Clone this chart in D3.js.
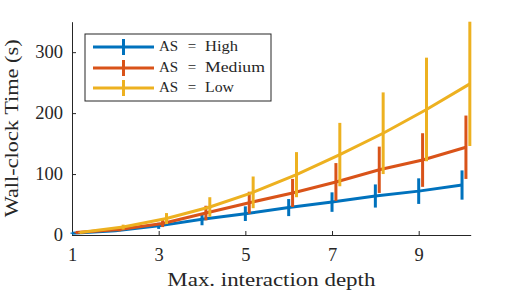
<!DOCTYPE html>
<html>
<head>
<meta charset="utf-8">
<script src="https://cdn.jsdelivr.net/npm/d3@7"></script>
<style>
  body { margin: 0; background: #fff; }
  svg text { font-family: 'Liberation Serif', 'Times New Roman', serif; fill: #262626; }
</style>
</head>
<body>
<div id="chart"></div>
<script>
const depth = [1, 2, 3, 4, 5, 6, 7, 8, 9, 10];
const seriesNames = ['High', 'Medium', 'Low'];
const seriesColors = ['#0072BD', '#D95319', '#EDB120'];
const seriesShift = [0, 0.09, 0.18];

// mean wall-clock time (s)
const highMean = [3, 7, 15, 26, 35, 45, 54, 64, 72, 82];
const mediumMean = [4, 9, 19, 36, 53, 69, 87, 107, 123, 144];
const lowMean = [4, 13, 27, 46, 70, 99, 132, 167, 206, 248];

// half length of error bars
const highErr = [1, 2, 5, 10, 12, 14, 16, 19, 21, 24];
const mediumErr = [1, 3, 6, 12, 18, 23, 31, 38, 44, 52];
const lowErr = [1, 4, 9, 16, 26, 37, 52, 67, 85, 102];

const xTicks = [1, 3, 5, 7, 9];
const yTicks = [0, 100, 200, 300];

const width = 520;
const height = 295;
const plot = { left: 72, right: 470.7, top: 21.7, bottom: 235 };

const svg = d3
  .select('#chart')
  .append('svg')
  .attr('width', width)
  .attr('height', height);

const xScale = d3.scaleLinear().domain([1, 10.2]).range([plot.left, plot.right]);
const yScale = d3.scaleLinear().domain([0, 350]).range([plot.bottom, plot.top]);

const means = [highMean, mediumMean, lowMean];
const errs = [highErr, mediumErr, lowErr];

const series = seriesNames.map((name, s) => ({
  name: name,
  color: seriesColors[s],
  points: depth.map((d, i) => ({
    x: d + seriesShift[s],
    y: means[s][i],
    err: errs[s][i],
  })),
}));

// axes
const xAxis = d3.axisBottom(xScale).tickValues(xTicks).tickSizeInner(-4).tickSizeOuter(0).tickPadding(13);
const yAxis = d3.axisLeft(yScale).tickValues(yTicks).tickSizeInner(-4).tickSizeOuter(0).tickPadding(9);

const gx = svg
  .append('g')
  .attr('transform', `translate(0, ${plot.bottom})`)
  .call(xAxis);
const gy = svg
  .append('g')
  .attr('transform', `translate(${plot.left}, 0)`)
  .call(yAxis);

[gx, gy].forEach((g) => {
  g.select('.domain').attr('stroke', '#262626').attr('stroke-width', 1);
  g.selectAll('.tick line').attr('stroke', '#262626').attr('stroke-width', 1);
  g.selectAll('.tick text')
    .attr('font-family', "'Liberation Serif', serif")
    .attr('font-size', 18.5)
    .attr('fill', '#262626');
});
gy.selectAll('.tick text').attr('dy', '0.28em');

// series: line + vertical error bars
const line = d3
  .line()
  .x((d) => xScale(d.x))
  .y((d) => yScale(d.y));

series.forEach((s) => {
  const g = svg.append('g');
  g.append('path')
    .datum(s.points)
    .attr('fill', 'none')
    .attr('stroke', s.color)
    .attr('stroke-width', 3)
    .attr('d', line);
  g.selectAll('.bar')
    .data(s.points)
    .enter()
    .append('line')
    .attr('class', 'bar')
    .attr('x1', (d) => xScale(d.x))
    .attr('x2', (d) => xScale(d.x))
    .attr('y1', (d) => yScale(d.y - d.err))
    .attr('y2', (d) => yScale(d.y + d.err))
    .attr('stroke', s.color)
    .attr('stroke-width', 3);
});

// axis labels (stretched a bit to the width of the LaTeX font)
svg
  .append('text')
  .attr('x', (plot.left + plot.right) / 2)
  .attr('y', 286)
  .attr('text-anchor', 'middle')
  .attr('font-size', 19)
  .attr('textLength', 208)
  .attr('lengthAdjust', 'spacingAndGlyphs')
  .text('Max. interaction depth');

svg
  .append('text')
  .attr('transform', `translate(18, ${(plot.top + plot.bottom) / 2}) rotate(-90)`)
  .attr('text-anchor', 'middle')
  .attr('font-size', 19)
  .attr('textLength', 178)
  .attr('lengthAdjust', 'spacingAndGlyphs')
  .text('Wall-clock Time (s)');

// legend
const legend = svg.append('g').attr('transform', 'translate(85, 34)');
legend
  .append('rect')
  .attr('width', 186)
  .attr('height', 67)
  .attr('fill', '#fff')
  .attr('stroke', '#262626')
  .attr('stroke-width', 1);

const rowY = [13, 34, 54];
const nameLength = [33, 60, 29];
series.forEach((s, i) => {
  const row = legend.append('g').attr('transform', `translate(0, ${rowY[i]})`);
  row.append('line')
    .attr('x1', 8).attr('x2', 69)
    .attr('stroke', s.color).attr('stroke-width', 3);
  row.append('line')
    .attr('x1', 38.5).attr('x2', 38.5).attr('y1', -8).attr('y2', 8)
    .attr('stroke', s.color).attr('stroke-width', 3);
  row.append('text')
    .attr('x', 74).attr('y', 0).attr('dy', '0.26em')
    .attr('font-size', 15)
    .text('AS');
  row.append('text')
    .attr('x', 107).attr('y', 0).attr('dy', '0.26em')
    .attr('text-anchor', 'middle')
    .attr('font-size', 15)
    .text('=');
  row.append('text')
    .attr('x', 120).attr('y', 0).attr('dy', '0.26em')
    .attr('font-size', 15)
    .attr('textLength', nameLength[i])
    .attr('lengthAdjust', 'spacingAndGlyphs')
    .text(s.name);
});
</script>
</body>
</html>
